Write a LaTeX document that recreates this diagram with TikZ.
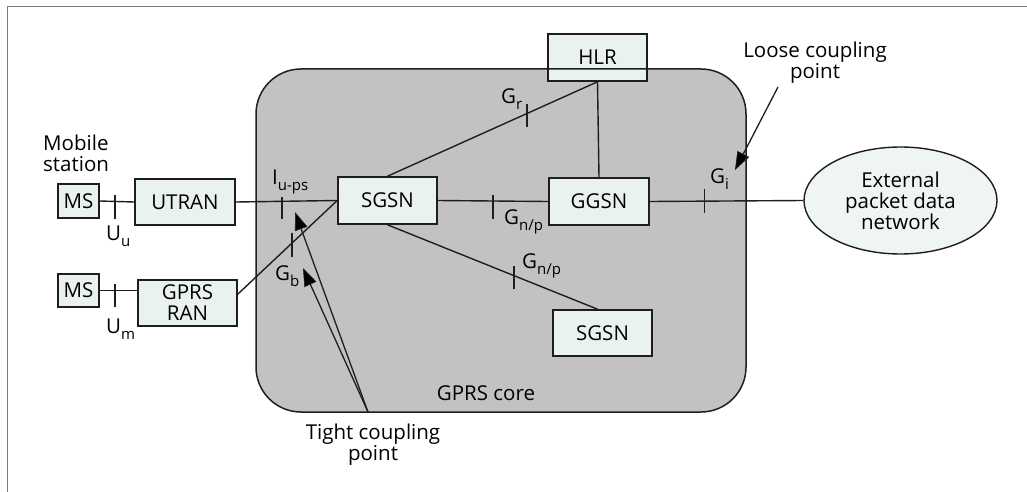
\documentclass[tikz,border=0pt]{standalone}
\usepackage{fontspec}
\setmainfont{Open Sans}
\usetikzlibrary{arrows.meta,shapes.geometric,calc}
\definecolor{corefill}{HTML}{C2C2C2}
\definecolor{boxfill}{HTML}{E9F1F1}
\definecolor{ellfill}{HTML}{EFF4F4}
\definecolor{ink}{HTML}{1E1E1E}
\definecolor{framegray}{HTML}{7C7C7C}
\newcommand{\ssub}[1]{\raisebox{-6.5pt}{\fontsize{15}{15}\selectfont #1}}
\tikzset{
  netbox/.style={draw=ink, line width=1.6pt, fill=boxfill, rectangle, inner sep=0pt,
                 align=center, font=\fontsize{20.5}{21}\selectfont},
  link/.style={draw=ink, line width=1.4pt},
  tickmark/.style={draw=ink, line width=1.4pt},
  iface/.style={anchor=base west, inner sep=0pt, font=\fontsize{20.5}{21}\selectfont},
  caption/.style={inner sep=0pt, align=center, font=\fontsize{20.5}{21}\selectfont},
  pointer/.style={draw=ink, line width=1.3pt,
                  -{Triangle[length=18pt,width=13pt,fill=black,line width=0.6pt]}}
}
\begin{document}
\begin{tikzpicture}[x=1pt,y=-1pt]
\useasboundingbox (0,0) rectangle (1027,492);
% outer frame
\draw[framegray, line width=1.8pt] (7.5,492) -- (7.5,6.5) -- (1027,6.5);

% GPRS core area (fill only; outline drawn last)
\path[fill=corefill, rounded corners=45pt] (256,69) rectangle (746,412);

% network elements
\node[netbox, minimum width=41pt, minimum height=34pt] (ms1) at (78.5,201) {MS};
\node[netbox, minimum width=100pt, minimum height=46pt] (utran) at (185,202) {UTRAN};
\node[netbox, minimum width=41pt, minimum height=33pt] (ms2) at (78.5,290.5) {MS};
\node[netbox, minimum width=99pt, minimum height=46pt] (ran) at (187.5,303) {GPRS\\RAN};
\node[netbox, minimum width=99pt, minimum height=47pt] (sgsn) at (387.5,200.5) {SGSN};
\node[netbox, minimum width=100pt, minimum height=47pt] (ggsn) at (599,201.5) {GGSN};
\node[netbox, minimum width=99pt, minimum height=46pt] (sgsnb) at (602.5,333) {SGSN};
\node[netbox, minimum width=99pt, minimum height=47pt] (hlr) at (597.5,57.5) {HLR};
\node[draw=ink, line width=1.4pt, fill=ellfill, ellipse, inner sep=0pt,
      minimum width=193pt, minimum height=107pt, align=center,
      font=\fontsize{20.5}{21}\selectfont] (epdn) at (900.5,200.5) {External\\packet data\\network};

% interfaces
\draw[link] (ms1.east) -- coordinate[pos=0.44] (tu) (utran.west);
\draw[link] (utran.east) -- coordinate[pos=0.456] (tiu) (sgsn.west);
\draw[link] (ms2.east) -- coordinate[pos=0.41] (tm) (ms2.east -| ran.west);
\draw[link] (ran.10) -- coordinate[pos=0.545] (tgb) (sgsn.west);
\draw[link] (sgsn.east) -- coordinate[pos=0.5] (tgn) (ggsn.west);
\draw[link] (sgsn.north) -- coordinate[pos=0.664] (tgr) (hlr.south);
\draw[link] (hlr.south) -- (ggsn.north);
\coordinate (sgsnbtop) at ([xshift=-5pt]sgsnb.north);
\draw[link] (sgsn.south) -- coordinate[pos=0.602] (tgn2) (sgsnbtop);
\draw[link] (ggsn.east) -- coordinate[pos=0.355] (tgi) (epdn.west);

% reference point ticks
\draw[tickmark] ([yshift=6pt]tu) -- ([yshift=-18pt]tu);
\draw[tickmark] ([yshift=4pt]tiu) -- ([yshift=-18pt]tiu);
\draw[tickmark] ([yshift=7pt]tm) -- ([yshift=-16pt]tm);
\draw[tickmark] ([yshift=10pt]tgb) -- ([yshift=-14pt]tgb);
\draw[tickmark] ([yshift=6pt]tgn) -- ([yshift=-18pt]tgn);
\draw[tickmark] ([yshift=10pt]tgr) -- ([yshift=-13pt]tgr);
\draw[tickmark] ([yshift=10pt]tgn2) -- ([yshift=-13pt]tgn2);
\draw[tickmark] ([yshift=12pt]tgi) -- ([yshift=-12pt]tgi);

% interface names
\node[iface] (luu) at (106,240) {U\ssub{u}};
\node[iface] (lum) at (106,333) {U\ssub{m}};
\node[iface] (liu) at (272,184) {I\ssub{u-ps}};
\node[iface] (lgb) at (275,280) {G\ssub{b}};
\node[iface] (lgn) at (504,224) {G\ssub{n/p}};
\node[iface] (lgr) at (501,103) {G\ssub{r}};
\node[iface] (lgn2) at (522,268) {G\ssub{n/p}};
\node[iface] (lgi) at (710,183) {G\ssub{i}};

% captions
\node[caption, anchor=west, align=left] (mob) at (43,153) {Mobile\\station};
\node[caption] (core) at (486,393) {GPRS core};
\node[caption] (loose) at (815,63) {Loose coupling\\point};
\node[caption] (tight) at (373,445) {Tight coupling\\point};

% coupling point pointers
\coordinate (tightfoot) at (368,412);
\coordinate (tipiu) at (295,212);
\coordinate (tipgb) at (303,268);
\coordinate (loosefoot) at (778,87);
\coordinate (tipgi) at (735,170);
\draw[pointer] (tightfoot) -- (tipiu);
\draw[pointer] (tightfoot) -- (tipgb);
\draw[pointer] (loosefoot) -- (tipgi);

% core outline on top
\draw[ink, line width=1.5pt, rounded corners=45pt] (256,69) rectangle (746,412);
\end{tikzpicture}
\end{document}
